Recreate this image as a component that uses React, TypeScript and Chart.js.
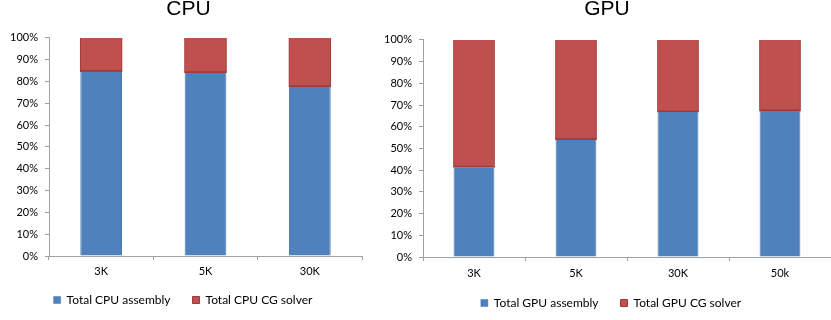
import React, { useEffect, useRef } from "react";
import { Chart, registerables } from "chart.js";

Chart.register(...registerables);

const cpuCategories = ["3K", "5K", "30K"];
const cpuAssembly = [84.6, 84.0, 77.6];
const cpuSolver = [15.4, 16.0, 22.4];

const gpuCategories = ["3K", "5K", "30K", "50k"];
const gpuAssembly = [41.3, 54.0, 66.8, 67.3];
const gpuSolver = [58.7, 46.0, 33.2, 32.7];

const yTicks = [0, 10, 20, 30, 40, 50, 60, 70, 80, 90, 100];

const BLUE = "#4F81BD";
const RED = "#C0504D";

const shiftBoxes = {
  id: "shiftBoxes",
  afterLayout(chart: any, _args: any, opts: any) {
    const o = opts || {};
    if (chart.legend) {
      chart.legend.left += o.legendDx || 0;
      chart.legend.right += o.legendDx || 0;
      chart.legend.top += o.legendDy || 0;
      chart.legend.bottom += o.legendDy || 0;
    }
    if (chart.titleBlock) {
      chart.titleBlock.left += o.titleDx || 0;
      chart.titleBlock.right += o.titleDx || 0;
    }
  },
};

interface Geo {
  padRight: number;
  yWidth: number;
  xHeight: number;
  xPad: number;
  titleBottom: number;
  titleDx: number;
  legendDx: number;
  legendDy: number;
  legendMax: number;
}

function makeConfig(
  title: string,
  cats: string[],
  asm: number[],
  sol: number[],
  asmLabel: string,
  solLabel: string,
  g: Geo
): any {
  return {
    type: "bar",
    data: {
      labels: cats,
      datasets: [
        {
          label: asmLabel,
          data: asm,
          backgroundColor: BLUE,
          borderColor: "#4a77ad",
          borderWidth: { top: 0, left: 1, right: 1, bottom: 0 },
          borderSkipped: false,
          barPercentage: 0.4,
          categoryPercentage: 1,
        },
        {
          label: solLabel,
          data: sol,
          backgroundColor: RED,
          borderColor: "#9e3b38",
          borderWidth: { top: 0, left: 1, right: 1, bottom: 2 },
          borderSkipped: false,
          inflateAmount: 0.5,
          barPercentage: 0.4,
          categoryPercentage: 1,
        },
      ],
    },
    plugins: [shiftBoxes],
    options: {
      animation: false,
      responsive: false,
      maintainAspectRatio: false,
      layout: { padding: { left: 0, right: g.padRight, top: 0, bottom: 0 } },
      plugins: {
        shiftBoxes: { legendDx: g.legendDx, legendDy: g.legendDy, titleDx: g.titleDx },
        title: {
          display: true,
          text: title,
          color: "#000",
          font: { family: "Liberation Sans, Arial, sans-serif", size: 21, weight: "normal", lineHeight: 0.9 },
          padding: { top: 0, bottom: g.titleBottom },
        },
        legend: {
          position: "bottom",
          maxHeight: g.legendMax,
          labels: {
            boxWidth: 7,
            boxHeight: 7,
            color: "#000",
            padding: 22,
            font: { family: "Lato, sans-serif", size: 12 },
          },
        },
        tooltip: { enabled: false },
      },
      scales: {
        x: {
          stacked: true,
          offset: true,
          grid: {
            offset: true,
            drawOnChartArea: false,
            drawTicks: true,
            tickLength: 4,
            color: "#a0a0a0",
          },
          border: { color: "#a0a0a0" },
          ticks: {
            color: "#000",
            padding: g.xPad,
            font: { family: "Lato, sans-serif", size: 11 },
          },
          afterFit: (s: any) => {
            s.height = g.xHeight;
          },
        },
        y: {
          stacked: true,
          min: 0,
          max: 100,
          afterBuildTicks: (s: any) => {
            s.ticks = yTicks.map((v) => ({ value: v }));
          },
          grid: {
            drawOnChartArea: false,
            drawTicks: true,
            tickLength: 4,
            color: "#a0a0a0",
          },
          border: { color: "#a0a0a0" },
          ticks: {
            color: "#000",
            padding: 7,
            font: { family: "Lato, sans-serif", size: 11 },
            callback: (v: any) => v + "%",
          },
          afterFit: (s: any) => {
            s.width = g.yWidth;
          },
        },
      },
    },
  };
}

function ChartBox(props: { left: number; width: number; config: any }) {
  const ref = useRef<HTMLCanvasElement | null>(null);
  useEffect(() => {
    if (!ref.current) return;
    const c = new Chart(ref.current, props.config);
    return () => c.destroy();
  }, []);
  return (
    <div style={{ position: "absolute", left: props.left, top: 0, width: props.width, height: 320 }}>
      <canvas ref={ref} width={props.width} height={320} style={{ display: "block" }} />
    </div>
  );
}

export default function App() {
  const cpu = makeConfig(
    "CPU",
    cpuCategories,
    cpuAssembly,
    cpuSolver,
    "Total CPU assembly",
    "Total CPU CG solver",
    {
      padRight: 14,
      yWidth: 49,
      xHeight: 24,
      xPad: 5,
      titleBottom: 19,
      titleDx: 7.5,
      legendDx: 2,
      legendDy: -8,
      legendMax: 40,
    }
  );
  const gpu = makeConfig(
    "GPU",
    gpuCategories,
    gpuAssembly,
    gpuSolver,
    "Total GPU assembly",
    "Total GPU CG solver",
    {
      padRight: 0,
      yWidth: 40,
      xHeight: 24,
      xPad: 6,
      titleBottom: 21,
      titleDx: 0,
      legendDx: 4,
      legendDy: -6,
      legendMax: 39,
    }
  );
  return (
    <div style={{ position: "absolute", left: 0, top: 0, width: 831, height: 320, background: "#fff" }}>
      <ChartBox left={0} width={376} config={cpu} />
      <ChartBox left={383} width={448} config={gpu} />
    </div>
  );
}
